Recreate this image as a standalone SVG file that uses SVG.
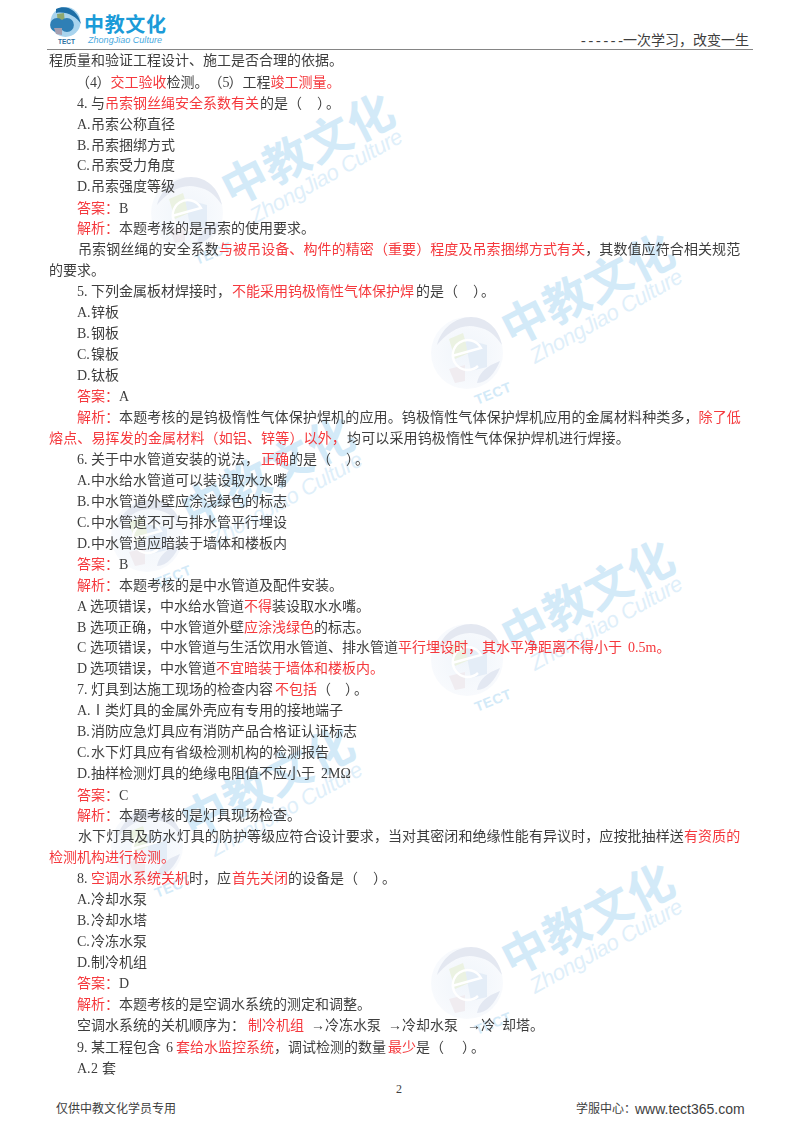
<svg xmlns="http://www.w3.org/2000/svg" width="800" height="1132" viewBox="0 0 800 1132">
<style>
text{font-family:"Liberation Serif","Noto Sans CJK SC",serif;font-size:14px;fill:#3e3e3e}
.r{fill:#f5383c}
.sans{font-family:"Liberation Sans","Noto Sans CJK SC",sans-serif}
.wmc{font-family:"Noto Sans CJK SC",sans-serif;font-size:46px;font-weight:700;fill:#d3eaf8}
.wmz{font-family:"Liberation Sans",sans-serif;font-size:22px;font-style:italic;fill:#dfeffa}
.wmt{font-family:"Liberation Sans",sans-serif;font-size:14px;font-weight:700;fill:#d3eaf8}
</style>
<defs>
<filter id="soft" x="0" y="0" width="1" height="1"><feGaussianBlur stdDeviation="0.35"/></filter>
<radialGradient id="gl"><stop offset="0" stop-color="#f0f5fb"/><stop offset="1" stop-color="#f8fafd"/></radialGradient>
<g id="wm">
<circle r="36" fill="url(#gl)"/>
<path d="M-30,-8 C-26,-24 -12,-36 4,-36 C20,-36 32,-24 35,-8 C28,-18 22,-24 10,-26 C-6,-30 -20,-20 -30,-8Z" fill="#e4e8f1"/>
<path d="M10,30 C20,30 28,20 33,8 L24,12 C18,16 12,20 10,30Z" fill="#e3e8f2"/>
<path d="M-18,-14 L-4,-20 L2,0 L-12,6Z" fill="#ebf2e2"/>
<path d="M-2,-14 L20,-8 L20,14 L4,18 Z" fill="#e4edf7"/>
<path d="M-18,16 L-2,12 L-2,28 L-12,30Z" fill="#f0ecf0"/>
<path d="M-15,3 L14,-5 A15,15 0 1 0 11,13" fill="none" stroke="#fff" stroke-width="2.4"/>
<text class="wmc" transform="translate(121,-64) rotate(-27)" y="17" text-anchor="middle" letter-spacing="1">中教文化</text>
<text class="wmz" transform="translate(68,11) rotate(-29)" textLength="171">ZhongJiao Culture</text>
<text class="wmt" transform="translate(10,52) rotate(-22)" textLength="38">TECT</text>
</g>
</defs>
<rect width="800" height="1132" fill="#fff"/>
<g id="watermarks">
<use href="#wm" x="187" y="213"/>
<use href="#wm" x="467" y="353"/>
<use href="#wm" x="147" y="536"/>
<use href="#wm" x="467" y="660"/>
<use href="#wm" x="147" y="846"/>
<use href="#wm" x="467" y="983"/>
</g>
<g id="header">
<circle cx="65.5" cy="22" r="15" fill="#a9d4ee"/>
<path d="M56,9 C66,4 78,10 81,24 C76,16 66,11 56,13Z" fill="#1d6ea6"/>
<path d="M57,14 L64,13 L65,24 L58,26Z" fill="#8fa86e"/>
<path d="M62,20 A7,7 0 1 1 62,30 A7,7 0 1 1 62,20Z" fill="#2f7fb5"/>
<path d="M54,28 L62,28 L62,35 L56,34Z" fill="#a59fb0"/>
<text class="sans" x="58" y="44" style="font-size:6.5px;font-weight:700;fill:#2c6f9f" textLength="17">TECT</text>
<text class="sans" x="84" y="32" style="font-size:20px;font-weight:700;fill:#1b9bd8" textLength="82">中教文化</text>
<text class="sans" x="88" y="43" style="font-size:9px;font-style:italic;fill:#4aa9de" textLength="74">ZhongJiao Culture</text>
<text x="581" y="45" textLength="42">------</text>
<text x="623" y="45">一次学习，改变一生</text>
<line x1="47" y1="49.5" x2="753" y2="49.5" stroke="#858585" stroke-width="1.2"/>
</g>
<g id="body" filter="url(#soft)">
<text x="49" y="65">程质量和验证工程设计、施工是否合理的依据。</text>
<text x="76" y="87">（<tspan x="90">4</tspan><tspan x="96.5">）</tspan><tspan x="110.5" class="r">交工验收</tspan><tspan x="166.5">检测。</tspan><tspan x="208.5">（</tspan><tspan x="222.5">5</tspan><tspan x="228.5">）</tspan><tspan x="242.5">工程</tspan><tspan x="270.5" class="r">竣工测量。</tspan></text>
<text x="77" y="108">4.<tspan x="91">与</tspan><tspan x="105" class="r">吊索钢丝绳安全系数有关</tspan><tspan x="260">的是（</tspan><tspan x="317 326">）。</tspan></text>
<text x="77" y="129">A.<tspan x="91">吊索公称直径</tspan></text>
<text x="77" y="150">B.<tspan x="91">吊索捆绑方式</tspan></text>
<text x="77" y="170">C.<tspan x="91">吊索受力角度</tspan></text>
<text x="77" y="191">D.<tspan x="91">吊索强度等级</tspan></text>
<text x="77" y="213" class="r">答案：<tspan x="119" style="fill:#3e3e3e">B</tspan></text>
<text x="77" y="233" class="r">解析：<tspan x="119" style="fill:#3e3e3e">本题考核的是吊索的使用要求。</tspan></text>
<text x="78" y="254" letter-spacing="0.09">吊索钢丝绳的安全系数<tspan class="r">与被吊设备、构件的精密（重要）程度及吊索捆绑方式有关</tspan>，其数值应符合相关规范</text>
<text x="49" y="275">的要求。</text>
<text x="77" y="296">5.<tspan x="91">下列金属板材焊接时，</tspan><tspan x="232" class="r">不能采用钨极惰性气体保护焊</tspan><tspan x="416">的是（</tspan><tspan x="473 481">）。</tspan></text>
<text x="77" y="317">A.<tspan x="91">锌板</tspan></text>
<text x="77" y="338">B.<tspan x="91">钢板</tspan></text>
<text x="77" y="359">C.<tspan x="91">镍板</tspan></text>
<text x="77" y="380">D.<tspan x="91">钛板</tspan></text>
<text x="77" y="401" class="r">答案：<tspan x="119" style="fill:#3e3e3e">A</tspan></text>
<text x="77" y="422" letter-spacing="0.14" class="r">解析：<tspan x="119" style="fill:#3e3e3e">本题考核的是钨极惰性气体保护焊机的应用。钨极惰性气体保护焊机应用的金属材料种类多，</tspan><tspan x="698.5">除了低</tspan></text>
<text x="49" y="443" letter-spacing="0.14" class="r">熔点、易挥发的金属材料（如铝、锌等）以外，<tspan x="347" style="fill:#3e3e3e">均可以采用钨极惰性气体保护焊机进行焊接。</tspan></text>
<text x="77" y="464">6.<tspan x="91">关于中水管道安装的说法，</tspan><tspan x="261" class="r">正确</tspan><tspan x="289">的是（</tspan><tspan x="346 355">）。</tspan></text>
<text x="77" y="485">A.<tspan x="91">中水给水管道可以装设取水水嘴</tspan></text>
<text x="77" y="506">B.<tspan x="91">中水管道外壁应涂浅绿色的标志</tspan></text>
<text x="77" y="527">C.<tspan x="91">中水管道不可与排水管平行埋设</tspan></text>
<text x="77" y="548">D.<tspan x="91">中水管道应暗装于墙体和楼板内</tspan></text>
<text x="77" y="569" class="r">答案：<tspan x="119" style="fill:#3e3e3e">B</tspan></text>
<text x="77" y="590" class="r">解析：<tspan x="119" style="fill:#3e3e3e">本题考核的是中水管道及配件安装。</tspan></text>
<text x="77" y="611">A<tspan x="90">选项错误，中水给水管道</tspan><tspan x="244" class="r">不得</tspan><tspan x="272">装设取水水嘴。</tspan></text>
<text x="77" y="632">B<tspan x="90">选项正确，中水管道外壁</tspan><tspan x="244" class="r">应涂浅绿色</tspan><tspan x="314">的标志。</tspan></text>
<text x="77" y="652">C<tspan x="90">选项错误，中水管道与生活饮用水管道、排水管道</tspan><tspan x="398" class="r">平行埋设时，其水平净距离不得小于</tspan><tspan x="628" class="r">0.5m。</tspan></text>
<text x="77" y="673">D<tspan x="90">选项错误，中水管道</tspan><tspan x="216" class="r">不宜暗装于墙体和楼板内。</tspan></text>
<text x="77" y="694">7.<tspan x="91">灯具到达施工现场的检查内容</tspan><tspan x="275" class="r">不包括</tspan><tspan x="317">（</tspan><tspan x="345 354">）。</tspan></text>
<text x="77" y="715">A.<tspan x="91">Ⅰ类灯具的金属外壳应有专用的接地端子</tspan></text>
<text x="77" y="736">B.<tspan x="91">消防应急灯具应有消防产品合格证认证标志</tspan></text>
<text x="77" y="757">C.<tspan x="91">水下灯具应有省级检测机构的检测报告</tspan></text>
<text x="77" y="778">D.<tspan x="91">抽样检测灯具的绝缘电阻值不应小于</tspan><tspan x="321 328 340.5">2MΩ</tspan></text>
<text x="77" y="800" class="r">答案：<tspan x="119" style="fill:#3e3e3e">C</tspan></text>
<text x="77" y="820" class="r">解析：<tspan x="119" style="fill:#3e3e3e">本题考核的是灯具现场检查。</tspan></text>
<text x="78" y="841" letter-spacing="0.09">水下灯具及防水灯具的防护等级应符合设计要求，当对其密闭和绝缘性能有异议时，应按批抽样送<tspan class="r">有资质的</tspan></text>
<text x="49" y="862" class="r">检测机构进行检测。</text>
<text x="77" y="883">8.<tspan x="91" class="r">空调水系统关机</tspan><tspan x="189">时，应</tspan><tspan x="232" class="r">首先关闭</tspan><tspan x="288">的设备是（</tspan><tspan x="373 382">）。</tspan></text>
<text x="77" y="904">A.<tspan x="91">冷却水泵</tspan></text>
<text x="77" y="925">B.<tspan x="91">冷却水塔</tspan></text>
<text x="77" y="946">C.<tspan x="91">冷冻水泵</tspan></text>
<text x="77" y="967">D.<tspan x="91">制冷机组</tspan></text>
<text x="77" y="988" class="r">答案：<tspan x="119" style="fill:#3e3e3e">D</tspan></text>
<text x="77" y="1009" class="r">解析：<tspan x="119" style="fill:#3e3e3e">本题考核的是空调水系统的测定和调整。</tspan></text>
<text x="77" y="1030">空调水系统的关机顺序为：<tspan x="248" class="r">制冷机组</tspan><tspan x="311">→</tspan><tspan x="325">冷冻水泵</tspan><tspan x="388">→</tspan><tspan x="402">冷却水泵</tspan><tspan x="467">→</tspan><tspan x="481">冷</tspan><tspan x="502">却塔。</tspan></text>
<text x="77" y="1052">9.<tspan x="91">某工程包含</tspan><tspan x="166">6</tspan><tspan x="176" class="r">套给水监控系统</tspan><tspan x="274">，</tspan><tspan x="288">调试检测的数量</tspan><tspan x="388" class="r">最少</tspan><tspan x="416">是（</tspan><tspan x="462 471">）。</tspan></text>
<text x="77" y="1073">A.<tspan x="91">2</tspan><tspan x="102">套</tspan></text>
</g>
<g id="footer">
<text x="396" y="1093" style="font-size:12px">2</text>
<text x="56" y="1113" style="font-size:12px">仅供中教文化学员专用</text>
<text x="576" y="1113" style="font-size:12px">学服中心：</text>
<text class="sans" x="635" y="1114">www.tect365.com</text>
</g>
</svg>
